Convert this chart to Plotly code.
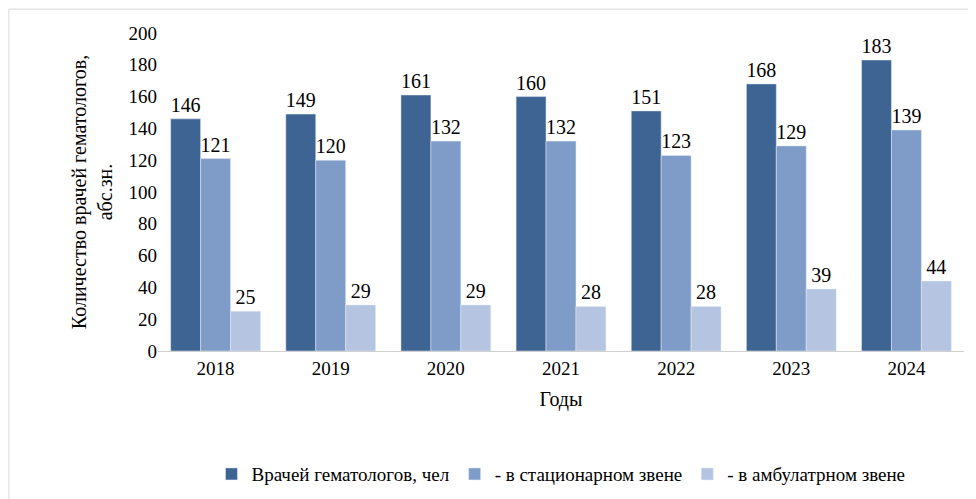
import plotly.graph_objects as go

years = ["2018", "2019", "2020", "2021", "2022", "2023", "2024"]
total = [146, 149, 161, 160, 151, 168, 183]
hospital = [121, 120, 132, 132, 123, 129, 139]
outpatient = [25, 29, 29, 28, 28, 39, 44]

serif = "Liberation Serif, Times New Roman, serif"

fig = go.Figure()
series = [
    ("Врачей гематологов, чел", total, "#3E6494"),
    ("- в стационарном звене", hospital, "#7F9CC8"),
    ("- в амбулатрном звене", outpatient, "#B5C4E0"),
]
for name, vals, col in series:
    fig.add_bar(x=years, y=vals, name=name, marker_color=col,
                text=vals, textposition="outside", cliponaxis=False,
                textfont=dict(size=20, color="black", family=serif))

fig.update_layout(
    width=976, height=499,
    margin=dict(l=150, r=20, t=25, b=156, autoexpand=False),
    paper_bgcolor="white", plot_bgcolor="white",
    font=dict(family=serif, size=19, color="black"),
    barmode="group", bargap=0.22, bargroupgap=0,
    showlegend=True,
    legend=dict(orientation="h", x=0.5, xanchor="center", y=-0.387, yanchor="middle",
                font=dict(size=19, family=serif)),
    xaxis=dict(title=dict(text="Годы", standoff=14, font=dict(family=serif, size=20)),
               showline=True, linecolor="#d0d0d0", ticks="",
               tickfont=dict(family=serif, size=19)),
    yaxis=dict(title=dict(text="Количество врачей гематологов,<br>абс.зн.",
                          font=dict(family=serif, size=20), standoff=10),
               range=[0, 200], dtick=20, showgrid=False, zeroline=False,
               tickfont=dict(family=serif, size=19)),
    shapes=[dict(type="rect", xref="paper", yref="paper", x0=-0.185, x1=1.023,
                 y0=-0.485, y1=1.075, line=dict(color="#d9d9d9", width=1))],
)

fig.write_html("out.html")
